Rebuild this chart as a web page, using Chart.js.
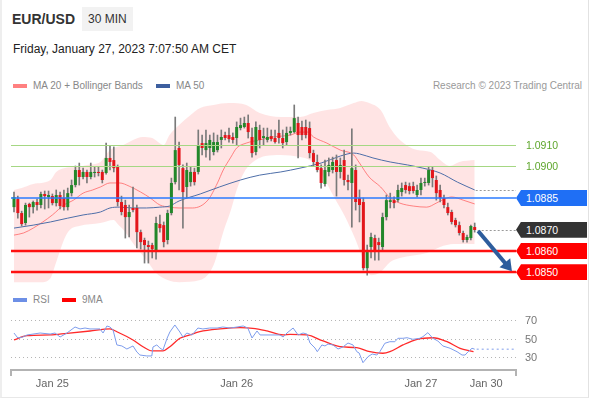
<!DOCTYPE html>
<html><head><meta charset="utf-8">
<script src="https://cdn.jsdelivr.net/npm/chart.js@4.4.0/dist/chart.umd.min.js"></script>
<style>
html,body{margin:0;padding:0;background:#fff;}
body{width:590px;height:400px;position:relative;overflow:hidden;font-family:"Liberation Sans",Arial,sans-serif;}
.frame{position:absolute;left:0;top:0;width:586px;height:397px;border-left:2px solid #eee;border-right:1px solid #e2e2e2;border-bottom:1px solid #e8e8e8;}
.abs{position:absolute;white-space:nowrap;}
#sym{left:12px;top:12px;font:bold 14px/14px "Liberation Sans",Arial,sans-serif;color:#333;}
#tf{left:82px;top:7px;width:51px;height:24px;background:#f2f2f2;font:12px/24px "Liberation Sans",Arial,sans-serif;color:#333;padding-left:6px;box-sizing:border-box;}
#date{left:13px;top:43px;font:12px/12px "Liberation Sans",Arial,sans-serif;color:#222;}
.leg{font:10px/10px "Liberation Sans",Arial,sans-serif;color:#888;}
.sw{position:absolute;width:14px;height:4px;}
#credit{right:8px;top:81px;font:10px/10px "Liberation Sans",Arial,sans-serif;color:#999;}
canvas{position:absolute;left:0;}
.tag{position:absolute;left:516px;width:71px;height:16px;line-height:16px;color:#fff;font-size:10.5px;padding-left:10px;box-sizing:border-box;clip-path:polygon(0 50%,5px 0,100% 0,100% 100%,5px 100%);}
.gtag{position:absolute;left:526px;height:16px;line-height:16px;color:#5ea62c;font-size:10.5px;}
</style>
</head><body>
<div class="frame"></div>
<div id="sym" class="abs">EUR/USD</div>
<div id="tf" class="abs">30 MIN</div>
<div id="date" class="abs">Friday, January 27, 2023 7:07:50 AM CET</div>
<div class="sw" style="left:13px;top:84px;background:#ff8080;"></div>
<div class="abs leg" style="left:33px;top:81px;">MA 20 + Bollinger Bands</div>
<div class="sw" style="left:156px;top:84px;background:#3d5f9f;"></div>
<div class="abs leg" style="left:176px;top:81px;">MA 50</div>
<div id="credit" class="abs">Research © 2023 Trading Central</div>
<div class="sw" style="left:13px;top:298px;background:#6d8fe6;"></div>
<div class="abs leg" style="left:33px;top:295px;">RSI</div>
<div class="sw" style="left:62px;top:298px;background:#ff0000;"></div>
<div class="abs leg" style="left:82px;top:295px;">9MA</div>
<canvas id="main" width="590" height="195" style="top:95px;"></canvas>
<canvas id="rsi" width="590" height="100" style="top:300px;"></canvas>
<script>
// ---------- data (30-minute candles, index 0 = Jan 25 00:00) ----------
const firstIndex = -10;
const opens = [
1.08807,1.08845,1.08779,1.08732,1.08822,1.08807,1.08831,1.08817,1.08869,1.08855,
1.08859,1.08826,1.08864,1.08850,1.08807,1.08873,1.08911,1.08982,1.08949,1.08973,
1.08949,1.08968,1.08973,1.08973,1.08968,1.09039,1.09029,1.08996,1.08831,1.08817,
1.08760,1.08803,1.08803,1.08689,1.08652,1.08628,1.08628,1.08604,1.08727,1.08722,
1.08652,1.08779,1.08925,1.09086,1.08991,1.08902,1.08925,1.08973,1.08973,1.09109,
1.09076,1.09086,1.09067,1.09076,1.09124,1.09147,1.09147,1.09138,1.09133,1.09180,
1.09185,1.09204,1.09138,1.09067,1.09171,1.09133,1.09124,1.09142,1.09133,1.09157,
1.09133,1.09114,1.09157,1.09161,1.09204,1.09185,1.09185,1.09180,1.09062,1.09020,
1.08991,1.08916,1.08973,1.08982,1.09029,1.08973,1.09029,1.08935,1.08921,1.08982,
1.08850,1.08831,1.08519,1.08619,1.08661,1.08642,1.08619,1.08760,1.08831,1.08840,
1.08840,1.08878,1.08911,1.08906,1.08906,1.08864,1.08888,1.08921,1.08921,1.08982,
1.08935,1.08888,1.08850,1.08807,1.08784,1.08746,1.08722,1.08685,1.08652,1.08661,1.08713];
const highs = [
1.08878,1.08859,1.08788,1.08826,1.08826,1.08836,1.08845,1.08878,1.08883,1.08883,
1.08869,1.08888,1.08878,1.08888,1.08897,1.08935,1.09001,1.09015,1.08991,1.08982,
1.09015,1.08996,1.08996,1.08982,1.09109,1.09095,1.09091,1.09006,1.08859,1.08840,
1.08817,1.08902,1.08817,1.08699,1.08661,1.08647,1.08637,1.08760,1.08770,1.08737,
1.08793,1.08944,1.09232,1.09114,1.09006,1.09015,1.08996,1.08991,1.09171,1.09147,
1.09171,1.09147,1.09157,1.09147,1.09171,1.09161,1.09180,1.09157,1.09209,1.09227,
1.09232,1.09242,1.09180,1.09209,1.09194,1.09180,1.09180,1.09171,1.09171,1.09218,
1.09171,1.09185,1.09185,1.09289,1.09232,1.09213,1.09218,1.09209,1.09076,1.09053,
1.09006,1.09029,1.09039,1.09043,1.09053,1.09039,1.09076,1.08958,1.09176,1.09006,
1.08888,1.08850,1.08628,1.08685,1.08675,1.08661,1.08779,1.08864,1.08873,1.08855,
1.08911,1.08921,1.08925,1.08921,1.08925,1.08911,1.08944,1.08944,1.08996,1.08996,
1.08954,1.08911,1.08864,1.08826,1.08793,1.08755,1.08737,1.08694,1.08675,1.08722,1.08732];
const lows = [
1.08784,1.08755,1.08718,1.08722,1.08760,1.08779,1.08793,1.08803,1.08798,1.08803,
1.08817,1.08812,1.08798,1.08793,1.08793,1.08859,1.08902,1.08911,1.08940,1.08921,
1.08940,1.08949,1.08954,1.08921,1.08963,1.08982,1.08973,1.08812,1.08770,1.08661,
1.08666,1.08784,1.08614,1.08609,1.08543,1.08543,1.08567,1.08562,1.08689,1.08619,
1.08633,1.08770,1.08916,1.08888,1.08708,1.08850,1.08906,1.08911,1.08963,1.09053,
1.09043,1.09029,1.09053,1.09067,1.09086,1.09124,1.09114,1.09109,1.09100,1.09171,
1.09180,1.09133,1.09043,1.09053,1.09086,1.09100,1.09114,1.09119,1.09109,1.09109,
1.09086,1.09100,1.09147,1.09157,1.09039,1.09124,1.09133,1.09039,1.09001,1.08973,
1.08897,1.08906,1.08954,1.08968,1.08859,1.08944,1.08911,1.08888,1.08713,1.08793,
1.08737,1.08510,1.08486,1.08567,1.08557,1.08557,1.08604,1.08746,1.08803,1.08803,
1.08831,1.08859,1.08873,1.08869,1.08873,1.08855,1.08864,1.08906,1.08911,1.08902,
1.08840,1.08831,1.08803,1.08770,1.08727,1.08713,1.08675,1.08642,1.08642,1.08652,1.08689];
const closes = [
1.08855,1.08779,1.08727,1.08817,1.08807,1.08831,1.08817,1.08869,1.08859,1.08864,
1.08826,1.08864,1.08812,1.08807,1.08873,1.08911,1.08982,1.08949,1.08973,1.08949,
1.08973,1.08973,1.08968,1.08935,1.09039,1.09020,1.08991,1.08831,1.08784,1.08760,
1.08784,1.08793,1.08689,1.08642,1.08628,1.08619,1.08609,1.08732,1.08708,1.08642,
1.08779,1.08921,1.09076,1.09006,1.08878,1.08982,1.08973,1.08925,1.09100,1.09086,
1.09109,1.09124,1.09114,1.09114,1.09138,1.09133,1.09128,1.09124,1.09185,1.09194,
1.09204,1.09161,1.09062,1.09185,1.09124,1.09142,1.09138,1.09128,1.09114,1.09133,
1.09109,1.09157,1.09166,1.09227,1.09147,1.09147,1.09147,1.09062,1.09020,1.08982,
1.08921,1.08982,1.09006,1.09020,1.08973,1.09006,1.08935,1.08925,1.08991,1.08831,
1.08817,1.08519,1.08595,1.08666,1.08604,1.08628,1.08760,1.08840,1.08840,1.08826,
1.08888,1.08897,1.08888,1.08883,1.08883,1.08888,1.08921,1.08925,1.08982,1.08944,
1.08873,1.08850,1.08817,1.08779,1.08737,1.08722,1.08685,1.08652,1.08666,1.08718,1.08699];

// indicator readings [candle index, value]
const bbUpper = [[-10,1.08888],[-8,1.08897],[-5,1.08916],[-0.5,1.08935],[1,1.08973],[3,1.08991],[6.5,1.08996],[9,1.09006],[12.5,1.09020],[15,1.09076],[18.5,1.09100],[21,1.09124],[23.5,1.09138],[26,1.09133],[29,1.09100],[30.5,1.09147],[33,1.09194],[36,1.09242],[38.5,1.09275],[42,1.09289],[46,1.09298],[50.5,1.09289],[54,1.09251],[59.5,1.09232],[64.5,1.09232],[68,1.09251],[71.5,1.09265],[75,1.09275],[78.5,1.09298],[80.5,1.09308],[82.5,1.09298],[85.5,1.09265],[88,1.09180],[90.5,1.09124],[95,1.09076],[98.5,1.09067],[101,1.09029],[103.5,1.09001],[106,1.09020],[110,1.09029]];
const bbLower = [[-10,1.08453],[-3,1.08453],[-0.5,1.08472],[1,1.08548],[3,1.08652],[4.5,1.08699],[7,1.08718],[12.5,1.08732],[16,1.08746],[17,1.08727],[19,1.08689],[21,1.08637],[24.5,1.08557],[27,1.08496],[30,1.08463],[33,1.08453],[38.5,1.08463],[42,1.08534],[44.5,1.08689],[46.5,1.08793],[48,1.08888],[50,1.08973],[53,1.09029],[55.5,1.09048],[59.5,1.09053],[64.5,1.09043],[67,1.09029],[68.5,1.09006],[71,1.08935],[73.5,1.08850],[76,1.08770],[79,1.08652],[81.5,1.08534],[83,1.08486],[85.5,1.08501],[88,1.08548],[90.5,1.08567],[97.5,1.08590],[101,1.08619],[104.5,1.08633],[110,1.08633]];
const ma20 = [[-10,1.08675],[-7.5,1.08685],[-5,1.08708],[-2.5,1.08737],[0,1.08770],[3,1.08817],[5.5,1.08840],[8,1.08873],[10.5,1.08888],[12.5,1.08902],[15,1.08921],[17.5,1.08921],[20,1.08906],[23,1.08878],[25.5,1.08850],[28,1.08817],[30.5,1.08807],[33,1.08803],[36.5,1.08803],[40.5,1.08840],[43,1.08921],[44.5,1.08982],[46.5,1.09043],[48,1.09086],[50.5,1.09109],[54,1.09124],[57.5,1.09138],[62,1.09147],[64.5,1.09161],[66.5,1.09161],[68,1.09138],[71.5,1.09109],[75,1.09076],[78.5,1.09053],[80,1.09015],[82.5,1.08949],[85.5,1.08902],[88,1.08850],[90.5,1.08826],[94,1.08812],[97.5,1.08807],[100,1.08826],[101.5,1.08840],[104,1.08855],[107,1.08840],[110,1.08822]];
const ma50 = [[-10,1.08708],[-5,1.08722],[-0.5,1.08737],[4,1.08755],[8,1.08770],[12.5,1.08784],[15,1.08803],[17.5,1.08807],[21,1.08803],[24.5,1.08803],[28,1.08807],[30.5,1.08812],[33,1.08836],[38.5,1.08869],[43.5,1.08902],[49,1.08935],[54,1.08958],[59.5,1.08973],[64.5,1.08991],[70,1.09015],[75,1.09048],[78.5,1.09062],[80,1.09058],[83.5,1.09039],[88,1.09020],[92.5,1.09006],[96.5,1.08991],[101,1.08968],[105.5,1.08925],[110,1.08888]];
const rsi = [[-10,57.0],[-9,51.6],[-7.7,52.7],[-6.6,54.9],[-3.2,57.0],[-0.6,55.9],[0.7,57.0],[2,52.7],[3.8,57.0],[5.9,63.5],[7.2,61.4],[8.5,62.4],[9.8,61.4],[12.4,61.4],[13.2,57.0],[14.2,64.6],[15,63.5],[15.8,60.3],[16.8,44.1],[18.1,43.0],[19.4,39.7],[21,43.0],[22,36.5],[22.8,33.2],[24.6,32.2],[25.9,32.2],[26.2,41.9],[27.2,44.1],[28,40.8],[28.8,38.6],[29.9,51.6],[30.6,58.1],[31.9,65.7],[33.2,58.1],[34,52.7],[35,57.0],[36.4,54.9],[37.9,62.4],[39.2,61.4],[41,62.4],[42.9,62.4],[44.4,63.5],[46.3,62.4],[48.1,63.5],[49.7,64.6],[50.9,62.4],[52,51.6],[53.3,59.2],[54.1,54.9],[56.7,54.9],[59.3,54.9],[60.1,52.7],[61.1,57.0],[62.7,62.4],[64,54.9],[65.3,57.0],[66.3,55.9],[67.1,46.2],[68.4,40.8],[69,36.8],[70.2,44.1],[71,43.0],[71.8,45.1],[73.1,44.1],[74.4,39.7],[75.7,41.9],[77,46.2],[78.3,44.1],[79.3,36.8],[79.9,35.4],[80.9,24.9],[82.2,31.4],[83.3,34.3],[84.5,33.2],[85.3,36.8],[86.6,45.9],[87.9,47.6],[89.2,47.6],[90,51.3],[91.3,51.3],[92.4,51.9],[93.9,50.2],[95.7,51.3],[96.5,53.0],[97.8,57.4],[99.1,51.3],[100.4,48.4],[101.7,43.0],[103.6,40.5],[105.4,36.8],[106.7,33.2],[107.5,33.2],[108.3,36.8],[109.3,40.5],[110,39.5]];
const rsiMa = [[-10,49.5],[-6.6,54.1],[-0.6,54.9],[3.8,56.7],[9.8,59.2],[15,61.4],[16.8,58.4],[21,49.5],[23.6,42.2],[26,37.6],[28.8,37.6],[30.6,42.2],[33.2,51.3],[35.8,54.9],[38.4,58.4],[43.7,61.4],[48.9,62.8],[52.2,62.1],[55.9,59.2],[60.1,54.9],[61.9,55.6],[66.3,54.9],[70.5,48.4],[74.9,42.2],[79.3,41.1],[82.7,36.8],[86.1,35.1],[87.9,36.8],[91.3,44.1],[95,50.2],[99.1,51.9],[102.8,47.6],[106.2,40.5],[108.8,37.6],[109.7,36.8]];

const greenLevels = [1.0910, 1.0900];
const blueLevel = 1.0885;
const redLevels = [1.0860, 1.0850];
const lastPrice = 1.0870;
const arrowFrom = {x: 110.9, y: 1.08694};
const arrowTo = {x: 119.7, y: 1.08505};
const tickIndex = [0, 48, 96, 113];
const tickLabels = ['Jan 25', 'Jan 26', 'Jan 27', 'Jan 30'];
const rsiTicks = [30, 50, 70];

// axis limits
const X_MIN = -10.78, X_MAX = 120.76;
const PRICE_MIN = 1.08416, PRICE_MAX = 1.09336;
const RSI_MIN = 17, RSI_MAX = 87.3;
const MAIN_TOP = 95;

const idx = opens.map((_, k) => firstIndex + k);
const wicks = idx.map((x, k) => ({x: x, y: [lows[k], highs[k]]}));
const bodies = idx.map((x, k) => ({x: x, y: [opens[k], closes[k]]}));
const bodyColors = idx.map((x, k) => closes[k] >= opens[k] ? '#23872a' : '#e3161b');

function hLine(ctx, area, y, color, w, dash, x0) {
  ctx.save();
  ctx.beginPath();
  ctx.setLineDash(dash || []);
  ctx.strokeStyle = color; ctx.lineWidth = w;
  const yy = (w % 2 === 1) ? Math.round(y) + 0.5 : Math.round(y);
  ctx.moveTo(x0 !== undefined ? x0 : area.left, yy);
  ctx.lineTo(area.right, yy);
  ctx.stroke();
  ctx.restore();
}

const levelPlugin = {
  id: 'levels',
  afterDatasetsDraw(chart) {
    const {ctx, chartArea: a, scales: {x, y}} = chart;
    greenLevels.forEach(v => hLine(ctx, a, y.getPixelForValue(v), '#a5d783', 1));
    hLine(ctx, a, y.getPixelForValue(blueLevel), '#2b7bff', 1.5);
    redLevels.forEach(v => hLine(ctx, a, y.getPixelForValue(v), '#ff1010', 2.5));
    const lastMa = ma50[ma50.length - 1];
    hLine(ctx, a, y.getPixelForValue(lastMa[1]), '#9a9a9a', 1, [2, 2], x.getPixelForValue(lastMa[0]) + 1);
    hLine(ctx, a, y.getPixelForValue(lastPrice), '#9a9a9a', 1, [2, 2], x.getPixelForValue(idx[idx.length - 1]) + 3);
    // arrow
    const x1 = x.getPixelForValue(arrowFrom.x), y1 = y.getPixelForValue(arrowFrom.y);
    const x2 = x.getPixelForValue(arrowTo.x), y2 = y.getPixelForValue(arrowTo.y);
    const dx = x2 - x1, dy = y2 - y1, len = Math.hypot(dx, dy), ux = dx / len, uy = dy / len;
    const hl = 11, hw = 7;
    const bx = x2 - ux * hl, by = y2 - uy * hl;
    ctx.save();
    ctx.strokeStyle = '#2d5d9d'; ctx.fillStyle = '#2d5d9d'; ctx.lineWidth = 4;
    ctx.beginPath(); ctx.moveTo(x1, y1); ctx.lineTo(bx + ux * 2, by + uy * 2); ctx.stroke();
    ctx.beginPath(); ctx.moveTo(x2, y2); ctx.lineTo(bx - uy * hw, by + ux * hw); ctx.lineTo(bx + uy * hw, by - ux * hw); ctx.closePath(); ctx.fill();
    ctx.restore();
  }
};

const lineBase = {type: 'line', pointRadius: 0, fill: false, cubicInterpolationMode: 'monotone'};

const mainChart = new Chart(document.getElementById('main'), {
  type: 'bar',
  data: {datasets: [
    Object.assign({}, lineBase, {data: bbUpper, fill: '+1', backgroundColor: 'rgba(255,165,165,0.3)', borderColor: 'rgba(0,0,0,0)', borderWidth: 1, order: 10}),
    Object.assign({}, lineBase, {data: bbLower, borderColor: 'rgba(0,0,0,0)', borderWidth: 1, order: 11}),
    Object.assign({}, lineBase, {data: ma20, borderColor: 'rgba(255,95,95,0.75)', borderWidth: 1, order: 5}),
    Object.assign({}, lineBase, {data: ma50, borderColor: '#4d6ea8', borderWidth: 1, order: 4}),
    {type: 'bar', data: wicks, backgroundColor: '#7a7a7a', grouped: false, maxBarThickness: 1, barPercentage: 1, categoryPercentage: 1, order: 3},
    {type: 'bar', data: bodies, backgroundColor: bodyColors, grouped: false, maxBarThickness: 3, barPercentage: 1, categoryPercentage: 0.85, minBarLength: 1, order: 2}
  ]},
  options: {
    responsive: false, animation: false, devicePixelRatio: 1, events: [],
    layout: {padding: {left: 11, right: 74, top: 0, bottom: 0}},
    plugins: {legend: {display: false}, tooltip: {enabled: false}},
    scales: {
      x: {type: 'linear', min: X_MIN, max: X_MAX, display: false, offset: false},
      y: {type: 'linear', min: PRICE_MIN, max: PRICE_MAX, display: false}
    }
  },
  plugins: [levelPlugin]
});

// price tags (HTML text positioned from the chart's own scale)
const ys = mainChart.scales.y;
function py(v) { return MAIN_TOP + ys.getPixelForValue(v); }
function tag(v, bg) {
  const d = document.createElement('div');
  d.className = 'tag'; d.style.background = bg; d.style.top = (py(v) - 8) + 'px';
  d.textContent = v.toFixed(4); document.body.appendChild(d);
}
greenLevels.forEach(v => {
  const d = document.createElement('div');
  d.className = 'gtag'; d.style.top = (py(v) - 8) + 'px'; d.textContent = v.toFixed(4);
  document.body.appendChild(d);
});
tag(blueLevel, '#1f6ff5');
tag(lastPrice, '#333333');
redLevels.forEach(v => tag(v, '#ff0000'));

const rsiPlugin = {
  id: 'rsiExtras',
  afterDraw(chart) {
    const {ctx, chartArea: a, scales: {x, y}} = chart;
    ctx.save();
    ctx.strokeStyle = '#b3b3b3'; ctx.lineWidth = 2;
    ctx.beginPath();
    ctx.moveTo(a.left, a.bottom); ctx.lineTo(a.left, a.bottom + 6);
    ctx.moveTo(a.right, a.bottom); ctx.lineTo(a.right, a.bottom + 6);
    ctx.stroke();
    const last = rsi[rsi.length - 1];
    ctx.strokeStyle = '#a9bdf2'; ctx.lineWidth = 1.5; ctx.setLineDash([2, 3]);
    const yy = y.getPixelForValue(last[1]);
    ctx.beginPath(); ctx.moveTo(x.getPixelForValue(last[0]) + 2, yy); ctx.lineTo(a.right, yy); ctx.stroke();
    ctx.restore();
  }
};

new Chart(document.getElementById('rsi'), {
  type: 'line',
  data: {datasets: [
    Object.assign({}, lineBase, {data: rsi, borderColor: '#7d9cec', borderWidth: 1, cubicInterpolationMode: 'default', tension: 0}),
    Object.assign({}, lineBase, {data: rsiMa, borderColor: '#ff2a2a', borderWidth: 1.3})
  ]},
  options: {
    responsive: false, animation: false, devicePixelRatio: 1, events: [],
    layout: {padding: {left: 11, right: 0, top: 5, bottom: 0}},
    plugins: {legend: {display: false}, tooltip: {enabled: false}},
    scales: {
      x: {type: 'linear', min: X_MIN, max: X_MAX, offset: false,
          afterBuildTicks: s => { s.ticks = tickIndex.map(v => ({value: v})); },
          afterFit: s => { s.height = 30; s.paddingLeft = 0; s.paddingRight = 0; },
          ticks: {autoSkip: false, maxRotation: 0, padding: 7, color: '#666', font: {size: 11, family: 'Liberation Sans'},
                  callback: v => { const k = tickIndex.indexOf(v); return k >= 0 ? tickLabels[k] : ''; }},
          grid: {display: false, drawTicks: false},
          border: {display: true, color: '#b3b3b3', width: 2}},
      y: {type: 'linear', position: 'right', min: RSI_MIN, max: RSI_MAX,
          afterBuildTicks: s => { s.ticks = rsiTicks.map(v => ({value: v})); },
          afterFit: s => { s.width = 74; s.paddingTop = 0; s.paddingBottom = 0; },
          ticks: {padding: 9, color: '#777', font: {size: 11, family: 'Liberation Sans'}},
          grid: {color: '#b5b5b5', drawTicks: false, lineWidth: 1},
          border: {display: false, dash: [1, 3]}}
    }
  },
  plugins: [rsiPlugin]
});
</script>
</body></html>
